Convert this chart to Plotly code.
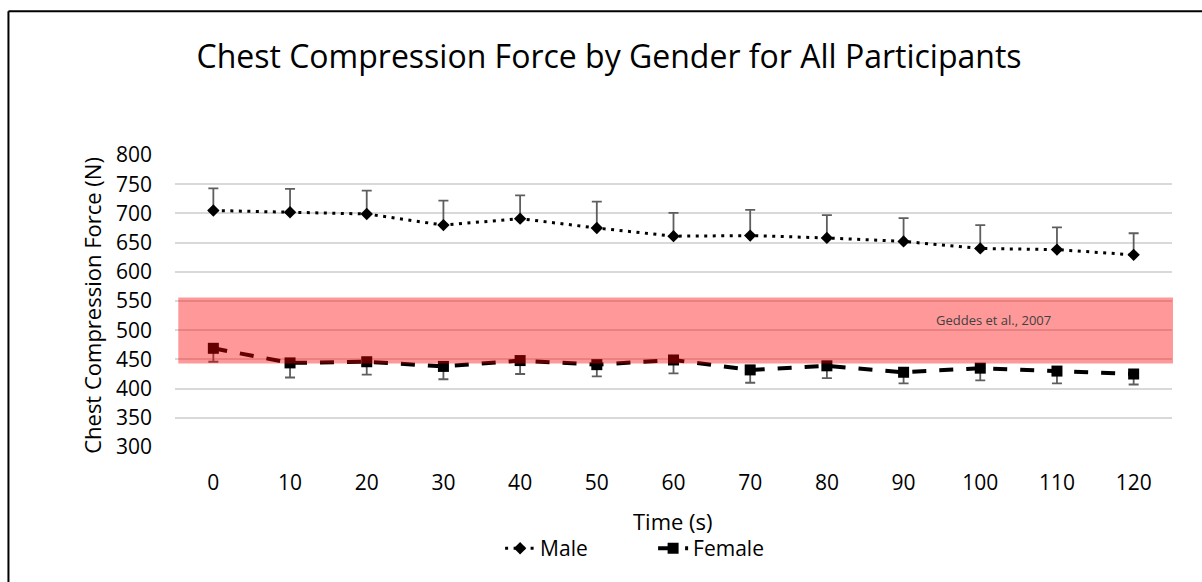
import plotly.graph_objects as go

# ---- data ----
time_s = [0, 10, 20, 30, 40, 50, 60, 70, 80, 90, 100, 110, 120]
male_force = [705, 702, 699, 680, 691, 675, 661, 662, 658, 652, 640, 638, 629]
male_err = [38, 40, 40, 42, 40, 45, 40, 44, 39, 40, 40, 38, 37]
female_force = [469, 444, 446, 438, 448, 441, 449, 432, 439, 428, 435, 430, 425]
female_err = [23, 25, 22, 22, 23, 20, 23, 22, 21, 19, 21, 21, 18]
band_low, band_high = 443, 556
band_label = "Geddes et al., 2007"
y_ticks = [300, 350, 400, 450, 500, 550, 600, 650, 700, 750, 800]

FONT = "Open Sans"
W, H = 1202, 582
L, R, T, B = 175, 30.3, 155, 134.7
pw, ph = W - L - R, H - T - B

def px_x(x):
    return (x - L) / pw

def px_y(y):
    return (H - B - y) / ph

fig = go.Figure()

fig.add_trace(go.Scatter(
    x=time_s, y=male_force, name="Male", mode="lines+markers",
    line=dict(color="black", width=3, dash="3px,5.5px"),
    marker=dict(symbol="diamond", size=9.5, color="black"),
    error_y=dict(type="data", symmetric=False, array=male_err,
                 arrayminus=[0] * len(male_err), color="#5e5e5e",
                 thickness=1.8, width=5),
))
fig.add_trace(go.Scatter(
    x=time_s, y=female_force, name="Female", mode="lines+markers",
    line=dict(color="black", width=4, dash="14px,13px"),
    marker=dict(symbol="square", size=11, color="black"),
    error_y=dict(type="data", symmetric=False, array=[0] * len(female_err),
                 arrayminus=female_err, color="#5e5e5e",
                 thickness=1.8, width=5),
))

shapes = [
    dict(type="rect", xref="paper", yref="y", x0=px_x(178.3), x1=px_x(1172.7),
         y0=band_low, y1=band_high, fillcolor="rgba(255,0,0,0.4)",
         line=dict(width=0), layer="above"),
    # chart border (left and top edges)
    dict(type="line", xref="paper", yref="paper", x0=px_x(8.5), x1=px_x(8.5),
         y0=px_y(11), y1=px_y(H + 5), line=dict(color="black", width=2)),
    dict(type="line", xref="paper", yref="paper", x0=px_x(8.5), x1=px_x(W + 5),
         y0=px_y(11), y1=px_y(11), line=dict(color="black", width=2)),
]

annotations = [
    dict(text=band_label, x=101.7, y=518, xref="x", yref="y", showarrow=False,
         font=dict(family=FONT, size=13, color="#404040")),
    dict(text="Chest Compression Force (N)", textangle=-90, x=px_x(92), y=px_y(305),
         xref="paper", yref="paper", showarrow=False, xanchor="center", yanchor="middle",
         font=dict(family=FONT, size=22, color="black")),
    dict(text="Time (s)", x=px_x(673), y=px_y(521), xref="paper", yref="paper",
         showarrow=False, xanchor="center", yanchor="middle",
         font=dict(family=FONT, size=22, color="black")),
]

fig.update_layout(
    width=W, height=H,
    margin=dict(l=L, r=R, t=T, b=B, autoexpand=False),
    paper_bgcolor="white", plot_bgcolor="white",
    font=dict(family=FONT, size=21, color="black"),
    title=dict(text="Chest Compression Force by Gender for All Participants",
               x=609 / W, xanchor="center", y=1 - 57 / H, yanchor="middle",
               yref="container", font=dict(family=FONT, size=32, color="black")),
    xaxis=dict(range=[-5, 125], tickvals=time_s, ticktext=[str(t) for t in time_s],
               showgrid=False, zeroline=False, showline=False, ticks="",
               ticklabelstandoff=21, tickfont=dict(family=FONT, size=21)),
    yaxis=dict(range=[300, 800], tickvals=y_ticks, showgrid=True,
               gridcolor="#d9d9d9", gridwidth=1.5, zeroline=False, showline=False,
               ticks="", ticklabelstandoff=22, tickfont=dict(family=FONT, size=21)),
    showlegend=True,
    legend=dict(orientation="h", x=px_x(500), xanchor="left", y=px_y(549),
                yanchor="middle", font=dict(family=FONT, size=21),
                entrywidth=108, entrywidthmode="pixels",
                bgcolor="rgba(0,0,0,0)"),
    shapes=shapes, annotations=annotations,
)

fig.write_html("out.html", config={"displayModeBar": False},
               post_script="document.body.style.margin='0';")
